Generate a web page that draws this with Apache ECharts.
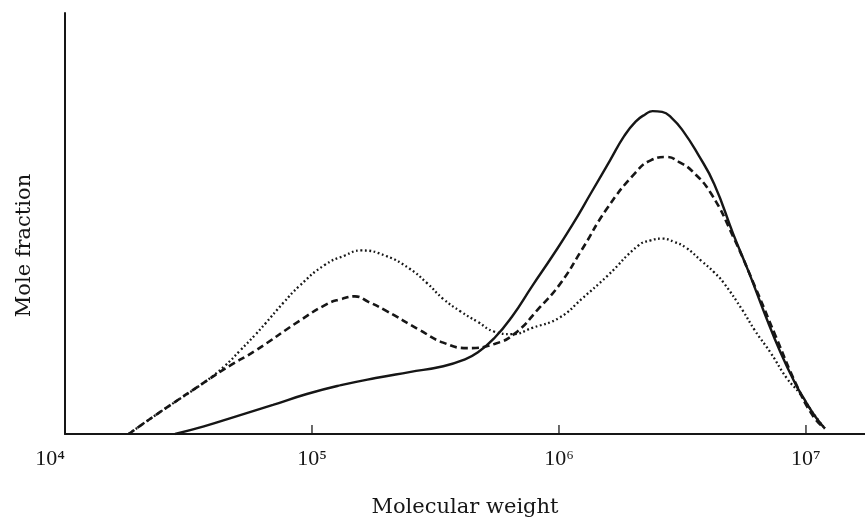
<!DOCTYPE html>
<html>
<head>
    <meta charset="utf-8" />
    <title>Mole fraction vs molecular weight</title>
</head>
<body style="margin:0;background:#fff;">
<script src="https://cdn.jsdelivr.net/npm/echarts@6.0.0/dist/echarts.min.js"></script>
<div id="main" style="width: 865px;height:525px;"></div>
<script type="text/javascript">
    // molecular weight (x) and mole fraction (y, arbitrary units)
    var solidMW = [27900, 36500, 50100, 69500, 95300, 131000, 181000, 248000, 340000, 411000,
        470000, 548000, 644000, 780000, 944000, 1131000, 1350000, 1610000, 1838000, 2043000,
        2232000, 2394000, 2616000, 2857000, 3177000, 3657000, 4250000, 5070000, 5891000, 6783000,
        7882000, 8995000, 10000000, 10920000, 11930000];
    var solidFrac = [0, 1.8, 4.3, 6.9, 9.5, 11.6, 13.3, 14.7, 16.1, 17.6,
        19.4, 22.8, 27.8, 35.2, 42.4, 49.6, 57.3, 65.0, 70.8, 74.2,
        75.9, 76.7, 76.5, 75.1, 72.0, 66.4, 59.4, 47.6, 38.2, 28.8,
        19.4, 12.3, 7.6, 4.1, 1.3];

    var dashedMW = [18100, 21500, 26600, 36500, 46400, 59000, 89100, 115300, 130700, 149300,
        169100, 199100, 272900, 339800, 427600, 548000, 663700, 833700, 1009000, 1236000,
        1567000, 2042000, 2352000, 2735000, 3067000, 3467000, 4140000, 5070000, 6209000, 7534000,
        9162000, 10730000, 11930000];
    var dashedFrac = [0, 3.1, 6.8, 12.2, 16.2, 19.8, 26.9, 30.9, 32.0, 32.7,
        31.4, 29.3, 24.7, 21.7, 20.4, 21.4, 23.9, 30.0, 35.6, 43.7,
        53.6, 62.1, 65.0, 65.8, 64.6, 62.4, 57.0, 46.9, 35.1, 23.3,
        11.6, 4.1, 1.3];

    var dottedMW = [18100, 21500, 26600, 36500, 44200, 51100, 59000, 64900, 76400, 89100,
        112200, 135800, 158100, 199100, 247900, 291500, 339800, 399700, 470100, 547900,
        644200, 779800, 1009000, 1236000, 1567000, 2099000, 2352000, 2618000, 2934000, 3258000,
        3793000, 4250000, 4645000, 5534000, 6209000, 7211000, 8375000, 9397000, 10730000, 11930000];
    var dottedFrac = [0, 3.1, 6.8, 12.2, 16.1, 19.8, 23.6, 26.3, 31.1, 35.2,
        40.1, 42.4, 43.6, 42.3, 39.3, 35.9, 32.1, 29.1, 26.6, 24.3,
        23.7, 25.2, 27.7, 32.1, 37.5, 44.8, 46.0, 46.4, 45.6, 44.3,
        41.0, 38.4, 35.9, 29.4, 24.6, 19.2, 13.2, 9.8, 4.8, 1.3];

    // decade tick marks on the x axis
    var decadeTicks = [100000, 1000000, 10000000];

    var mwMin = 10000, mwMax = 17340000;
    var sup = { '0': '⁰', '1': '¹', '2': '²', '3': '³', '4': '⁴', '5': '⁵', '6': '⁶', '7': '⁷', '8': '⁸', '9': '⁹' };

    function pairs(xs, ys) {
        return xs.map(function (x, i) { return [x, ys[i]]; });
    }

    var ink = '#161616';
    var times = '"Liberation Serif", serif';
    var slab = '"DejaVu Serif", serif';

    var myChart = echarts.init(document.getElementById('main'));

    var option = {
        animation: false,
        backgroundColor: '#fff',
        grid: { left: 65, right: 0, top: 13, bottom: 91 },
        xAxis: {
            type: 'log',
            logBase: 10,
            min: mwMin,
            max: mwMax,
            name: 'Molecular weight',
            nameLocation: 'middle',
            nameGap: 63,
            nameTextStyle: { fontFamily: slab, fontSize: 21, color: ink },
            axisLine: { show: true, lineStyle: { color: ink, width: 2 } },
            axisTick: { show: false },
            splitLine: { show: false },
            axisLabel: {
                margin: 14,
                fontFamily: times,
                fontSize: 22,
                color: ink,
                showMaxLabel: false,
                alignMinLabel: 'right',
                formatter: function (v) {
                    var e = Math.log10(v);
                    if (Math.abs(e - Math.round(e)) > 1e-6) return '';
                    return '10' + String(Math.round(e)).split('').map(function (d) { return sup[d]; }).join('');
                }
            }
        },
        yAxis: {
            type: 'value',
            min: 0,
            max: 100,
            name: 'Mole fraction',
            nameLocation: 'middle',
            nameGap: 30,
            nameTextStyle: { fontFamily: slab, fontSize: 21, color: ink, padding: [0, 44, 0, 0] },
            axisLine: { show: true, lineStyle: { color: ink, width: 2 } },
            axisTick: { show: false },
            axisLabel: { show: false },
            splitLine: { show: false }
        },
        series: [
            {
                name: 'solid',
                type: 'line',
                data: pairs(solidMW, solidFrac),
                smooth: 0.5,
                showSymbol: false,
                lineStyle: { color: ink, width: 2.4 }
            },
            {
                name: 'dashed',
                type: 'line',
                data: pairs(dashedMW, dashedFrac),
                smooth: 0.5,
                showSymbol: false,
                lineStyle: { color: ink, width: 2.6, type: [7, 4] }
            },
            {
                name: 'dotted',
                type: 'line',
                data: pairs(dottedMW, dottedFrac),
                smooth: 0.5,
                showSymbol: false,
                lineStyle: { color: ink, width: 2.3, type: [1.8, 2.6] }
            },
            {
                name: 'ticks',
                type: 'scatter',
                silent: true,
                clip: false,
                data: decadeTicks.map(function (v) { return [v, 0]; }),
                symbol: 'rect',
                symbolSize: [1.6, 9],
                symbolOffset: [0, -4.5],
                itemStyle: { color: ink }
            }
        ]
    };

    myChart.setOption(option);
</script>
</body>
</html>
